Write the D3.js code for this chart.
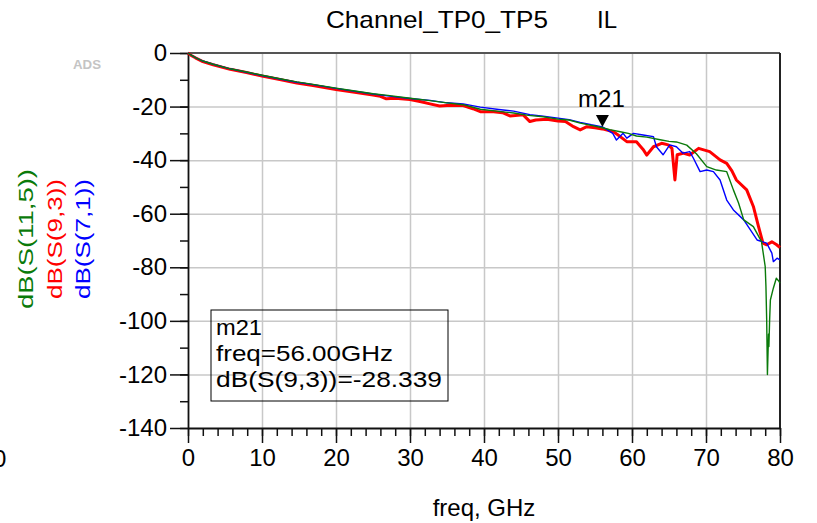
<!DOCTYPE html>
<html>
<head>
<meta charset="utf-8">
<script src="https://cdn.jsdelivr.net/npm/d3@7"></script>
<style>
  body { margin: 0; background: #fff; }
  text { font-family: "Liberation Sans", Arial, sans-serif; }
</style>
</head>
<body>
<svg width="817" height="523"></svg>
<script>
// S-parameter data (freq in GHz, value in dB)
var freqRed = [0,0.5,1,2,3.4,5.7,7.9,10,12.4,14.7,16.9,20,22.3,25,26,26.8,28,30,31.5,32.7,34,35,37.2,38.5,39.5,41.3,42.5,43.5,45.3,46.2,47,48.5,50,51,52.1,53,53.9,55,56,57.5,58.4,59.3,60.6,61.5,62,62.9,64,64.9,65.4,65.8,66.1,66.9,67.8,69,70.5,71.9,72.8,73.5,74.1,75.5,76.4,77.1,77.7,78.2,78.9,79.5,80];
var dbRed = [0,-1,-1.8,-3.2,-4.4,-6.1,-7.3,-8.6,-9.9,-11.2,-12.1,-13.6,-14.6,-15.7,-16.2,-17.1,-16.9,-17.4,-18.2,-19,-19.8,-19.6,-19.6,-20.8,-21.9,-21.9,-22.3,-23.5,-23.1,-25.6,-25,-24.7,-25.4,-25.6,-27.5,-28.7,-27.5,-27.9,-28.34,-29.4,-31.2,-33.1,-33.1,-36,-38.1,-35,-33.7,-34.3,-35.6,-47.4,-38,-37.4,-38.1,-35.6,-36.8,-39.9,-41.2,-44,-47.4,-51.1,-57.3,-64.8,-71,-71.6,-70.5,-71.5,-72.6];

var freqGreen = [0,0.5,1,2,3.4,5.7,7.9,10,12.4,14.7,16.9,20,22.3,25,27,30,32.7,35,37.2,39.5,42,44,46,48,50,51.5,53,54.5,56,57,58.4,59.5,60.6,62,63.8,65,66,67.4,68.7,70.1,71.4,72.8,73.7,74.4,75.1,76.4,77.5,78,78.1,78.2,78.3,78.45,78.5,78.6,78.7,79.1,79.5,79.8,80];
var dbGreen = [0,-0.9,-1.7,-3,-4.2,-5.9,-7.1,-8.3,-9.6,-10.8,-11.7,-13.1,-14.1,-15.2,-15.8,-16.9,-17.8,-18.6,-19.3,-21,-21.8,-22.4,-23.3,-23.8,-24.7,-25,-26.2,-27,-27.9,-28.6,-29.4,-30,-31,-31.4,-32.4,-33,-33.2,-34.4,-37.6,-42.4,-43.7,-44.3,-51.1,-56,-62.3,-64.8,-70.4,-79.7,-87.2,-99.6,-120,-105,-109.6,-99.6,-92.2,-87.8,-84.1,-85,-85.9];

var freqBlue = [0,0.5,1,2,3.4,5.7,7.9,10,12.4,14.7,16.9,20,22.3,25,27.5,30,32.7,35,37.2,39.5,42,44,46.2,48,50,51.5,53,54.5,56,57.4,57.9,58.8,59.3,60.2,61.5,62.9,63.3,64.2,65.1,66,66.9,67.8,68.3,69.2,70.1,71,71.9,72.8,73.7,75.1,76,76.9,78.2,78.9,79.1,79.6,80];
var dbBlue = [0,-0.9,-1.7,-3,-4.2,-5.9,-7.2,-8.4,-9.7,-10.9,-11.8,-13.2,-14.2,-15.3,-16.2,-17,-17.7,-18.6,-19,-20.2,-21.1,-21.7,-23,-23.6,-24.3,-24.9,-25.9,-26.8,-27.6,-30,-32.5,-30,-31.8,-30,-30.6,-31.2,-35,-38,-34.3,-35,-37.4,-36.8,-39.3,-44.3,-43.7,-44.3,-47.4,-54.9,-58.6,-62.3,-66,-69.8,-71,-74.7,-77.9,-76.6,-77.2];

var xMajorTicks = [0,10,20,30,40,50,60,70,80];
var yMajorTicks = [0,-20,-40,-60,-80,-100,-120,-140];
var seriesNames = ["dB(S(11,5))", "dB(S(9,3))", "dB(S(7,1))"];
var markerFreq = 56, markerDb = -28.339;

var svg = d3.select("svg"),
    margin = {top: 53, left: 188},
    width = 592,
    height = 375;

var x = d3.scaleLinear().domain([0, 80]).range([0, width]),
    y = d3.scaleLinear().domain([-140, 0]).range([height, 0]);

var g = svg.append("g")
    .attr("transform", "translate(" + margin.left + "," + margin.top + ")");

// grid
g.append("g")
    .attr("class", "grid")
    .call(d3.axisBottom(x).tickValues(xMajorTicks.slice(1, -1)).tickSize(height).tickFormat(""));
g.append("g")
    .attr("class", "grid")
    .call(d3.axisLeft(y).tickValues(yMajorTicks.slice(1, -1)).tickSize(-width).tickFormat(""));
g.selectAll(".grid .domain").remove();
g.selectAll(".grid line").attr("stroke", "#c8c8c8").attr("stroke-width", 2);

// frame top + right
g.append("line").attr("x1", 0).attr("x2", width).attr("y1", 0).attr("y2", 0)
    .attr("stroke", "#555").attr("stroke-width", 2);
g.append("line").attr("x1", width).attr("x2", width).attr("y1", 0).attr("y2", height)
    .attr("stroke", "#222").attr("stroke-width", 2);

// minor ticks
g.append("g")
    .attr("transform", "translate(0," + height + ")")
    .call(d3.axisBottom(x).tickValues(d3.range(0, 81, 2)).tickSize(8).tickFormat(""))
    .select(".domain").remove();
g.append("g")
    .call(d3.axisLeft(y).tickValues(d3.range(-140, 1, 10)).tickSize(8).tickFormat(""))
    .select(".domain").remove();

// major axes (plain hyphen for minus, like the original)
var plain = function(d) { return String(d); };
var xAxis = g.append("g")
    .attr("transform", "translate(0," + height + ")")
    .call(d3.axisBottom(x).tickValues(xMajorTicks).tickSize(15).tickPadding(6).tickSizeOuter(0).tickFormat(plain));
var yAxis = g.append("g")
    .call(d3.axisLeft(y).tickValues(yMajorTicks).tickSize(18).tickPadding(3).tickSizeOuter(0).tickFormat(plain));

g.selectAll(".tick line").attr("stroke-width", 1.5);
[xAxis, yAxis].forEach(function(a) {
  a.select(".domain").attr("stroke", "#111").attr("stroke-width", 1.8);
  a.selectAll("text").style("font-size", "24px").attr("fill", "#000")
    .style("font-family", "'Liberation Sans', Arial, sans-serif");
});
g.selectAll(".tick line").attr("stroke", "#111");
g.selectAll(".grid .tick line").attr("stroke", "#c8c8c8");

// curves
var line = d3.line()
    .x(function(d) { return x(d[0]); })
    .y(function(d) { return y(d[1]); });

var curves = [
  {f: freqRed, v: dbRed, color: "#ff0000", w: 3},
  {f: freqBlue, v: dbBlue, color: "#0000ff", w: 1.4},
  {f: freqGreen, v: dbGreen, color: "#0a7a0a", w: 1.4}
];
curves.forEach(function(c) {
  g.append("path")
    .datum(d3.zip(c.f, c.v))
    .attr("fill", "none")
    .attr("stroke", c.color)
    .attr("stroke-width", c.w)
    .attr("stroke-linejoin", "round")
    .attr("d", line);
});

// marker
var mx = x(markerFreq), my = y(markerDb) - 2;
g.append("path")
    .attr("d", "M" + mx + "," + my + "l-6.5,-12h13z")
    .attr("fill", "#000");
g.append("text")
    .attr("x", mx - 1).attr("y", 53.5)
    .attr("text-anchor", "middle")
    .style("font-size", "24px")
    .text("m21");

// marker readout box
g.append("rect")
    .attr("x", 23).attr("y", 257).attr("width", 237).attr("height", 91)
    .attr("fill", "none").attr("stroke", "#000").attr("stroke-width", 1);
var readout = [
  {t: "m21", len: 46},
  {t: "freq=" + markerFreq.toFixed(2) + "GHz", len: 177},
  {t: "dB(S(9,3))=" + markerDb.toFixed(3), len: 226}
];
readout.forEach(function(r, i) {
  g.append("text")
    .attr("x", 28).attr("y", 282 + i * 26)
    .attr("textLength", r.len).attr("lengthAdjust", "spacingAndGlyphs")
    .style("font-size", "22px")
    .text(r.t);
});

// title
svg.append("text").attr("x", 326).attr("y", 28)
    .attr("textLength", 222).attr("lengthAdjust", "spacingAndGlyphs")
    .style("font-size", "24px").text("Channel_TP0_TP5");
svg.append("text").attr("x", 597).attr("y", 28)
    .style("font-size", "24px").text("IL");

// x label
svg.append("text").attr("x", 484).attr("y", 516)
    .attr("text-anchor", "middle")
    .style("font-size", "24px").text("freq, GHz");

// rotated series labels
var legendX = [33, 62, 90], legendColor = ["#0a7a0a", "#ff0000", "#0000ff"], legendLen = [140, 120, 120];
seriesNames.forEach(function(n, i) {
  svg.append("text")
    .attr("transform", "translate(" + legendX[i] + ",239) rotate(-90)")
    .attr("text-anchor", "middle")
    .attr("textLength", legendLen[i]).attr("lengthAdjust", "spacingAndGlyphs")
    .style("font-size", "20px")
    .attr("fill", legendColor[i])
    .text(n);
});

// small watermark + clipped label at left edge
svg.append("text").attr("x", 73).attr("y", 69)
    .attr("textLength", 28).attr("lengthAdjust", "spacingAndGlyphs")
    .style("font-size", "12px").style("font-weight", "bold")
    .attr("fill", "#c4c4c4").text("ADS");
svg.append("text").attr("x", -7).attr("y", 467)
    .style("font-size", "24px").text("0");
</script>
</body>
</html>
